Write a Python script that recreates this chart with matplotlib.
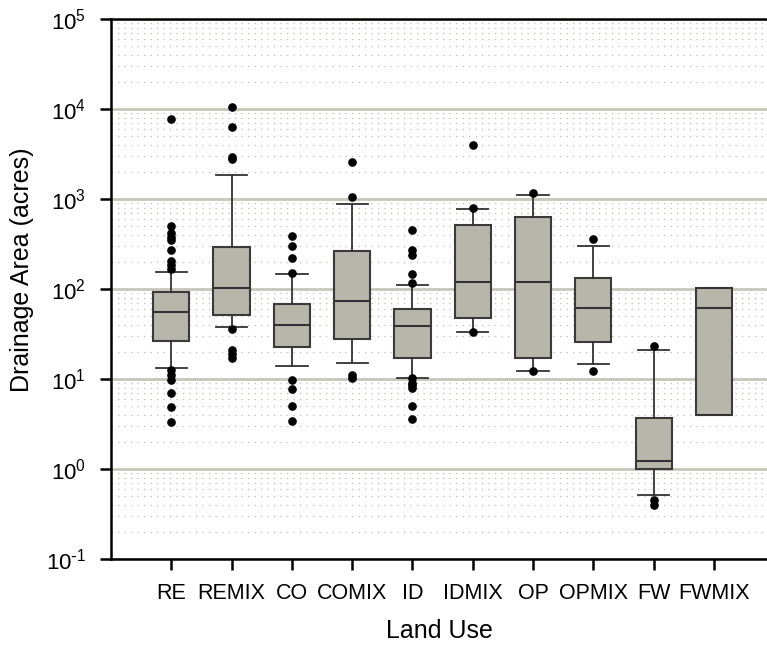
import numpy as np
import matplotlib
matplotlib.use("Agg")
import matplotlib.pyplot as plt
from matplotlib.ticker import LogLocator, NullFormatter, FixedLocator, FixedFormatter

plt.rcParams['font.family'] = ['Liberation Sans', 'DejaVu Sans']
plt.rcParams['mathtext.default'] = 'regular'

# --- summary statistics per land use (acres) ---
land_use = ["RE", "REMIX", "CO", "COMIX", "ID", "IDMIX", "OP", "OPMIX", "FW", "FWMIX"]
q1 = [26.6, 51.9, 22.9, 28.0, 17.0, 47.6, 17.0, 26.0, 0.99, 4.02]
med = [56.0, 102.6, 39.8, 74.1, 38.5, 119.6, 119.6, 62.0, 1.23, 61.5]
q3 = [93.3, 293.0, 68.7, 264.0, 60.0, 510.0, 626.0, 133.6, 3.72, 101.8]
whislo = [13.1, 37.5, 13.8, 15.1, 10.3, 33.0, 12.2, 14.6, 0.514, 4.02]
whishi = [155.7, 1863.0, 148.0, 887.0, 110.8, 781.0, 1099.0, 300.0, 21.2, 101.8]
fliers = [
    [7690, 505, 416, 381, 350, 271, 206, 185, 166, 12.6, 11.0, 9.75, 6.93, 4.92, 3.30],
    [10440, 6310, 2905, 2800, 35.9, 21.0, 19.0, 17.0],
    [388, 303, 221, 149, 9.75, 7.69, 5.0, 3.41],
    [2576, 1061, 11.0, 10.2],
    [456, 271, 239, 147, 116, 10.2, 9.0, 8.5, 7.9, 5.0, 3.57],
    [3948, 800, 33.0],
    [1157, 12.4],
    [357, 12.2],
    [23.3, 0.453, 0.40],
    [],
]

# y axis decades and their labels
y_ticks = [0.1, 1, 10, 100, 1000, 10000, 100000]
y_labels = [r'$10^{\text{-}1}$', r'$10^{0}$', r'$10^{1}$', r'$10^{2}$',
            r'$10^{3}$', r'$10^{4}$', r'$10^{5}$']

stats = []
for i, name in enumerate(land_use):
    stats.append(dict(label=name, q1=q1[i], med=med[i], q3=q3[i],
                      whislo=whislo[i], whishi=whishi[i], fliers=fliers[i]))

fig = plt.figure(figsize=(7.67, 6.45), dpi=100)
ax = fig.add_axes([111 / 767, 86 / 645, 656 / 767, 540 / 645])

ax.set_yscale('log')
ax.set_ylim(0.1, 1e5)

# grid: solid decades, dotted minor lines
ax.yaxis.set_major_locator(FixedLocator(y_ticks))
ax.yaxis.set_major_formatter(FixedFormatter(y_labels))
ax.yaxis.set_minor_locator(LogLocator(base=10, subs=np.arange(2, 10), numticks=20))
ax.yaxis.set_minor_formatter(NullFormatter())
ax.grid(which='major', axis='y', color='#c6c6ba', lw=2.0, zorder=0)
ax.grid(which='minor', axis='y', color='#bdbdac', lw=0.9, linestyle=(0, (1, 4.2)), zorder=0)
ax.set_axisbelow(True)

positions = np.arange(1, len(land_use) + 1)
ax.bxp(stats, positions=positions, widths=0.6, capwidths=0.52, patch_artist=True,
       boxprops=dict(facecolor='#b6b6aa', edgecolor='#3a3a3a', lw=1.5),
       medianprops=dict(color='#333333', lw=1.5),
       whiskerprops=dict(color='#333333', lw=1.3),
       capprops=dict(color='#333333', lw=1.3),
       flierprops=dict(marker='o', markerfacecolor='black', markeredgecolor='black',
                       markersize=5.2, linestyle='none'))

ax.xaxis.set_major_locator(FixedLocator(positions))
ax.set_xticklabels(land_use)
ax.set_xlim(0, 10.88)

for side in ['left', 'bottom', 'top']:
    ax.spines[side].set_linewidth(1.8)
    ax.spines[side].set_color('black')
ax.spines['right'].set_visible(False)

ax.tick_params(axis='x', which='major', direction='out', length=8, width=1.8,
               labelsize=15.5, pad=9, top=False)
ax.tick_params(axis='y', which='major', direction='out', length=8, width=1.8,
               labelsize=16, pad=10, right=False)
ax.tick_params(axis='y', which='minor', length=0)

ax.set_xlabel("Land Use", fontsize=18)
ax.set_ylabel("Drainage Area (acres)", fontsize=18)
ax.xaxis.set_label_coords(0.5, -0.112)
ax.yaxis.set_label_coords(-0.117, 0.535)

fig.savefig("out.png", dpi=100)
